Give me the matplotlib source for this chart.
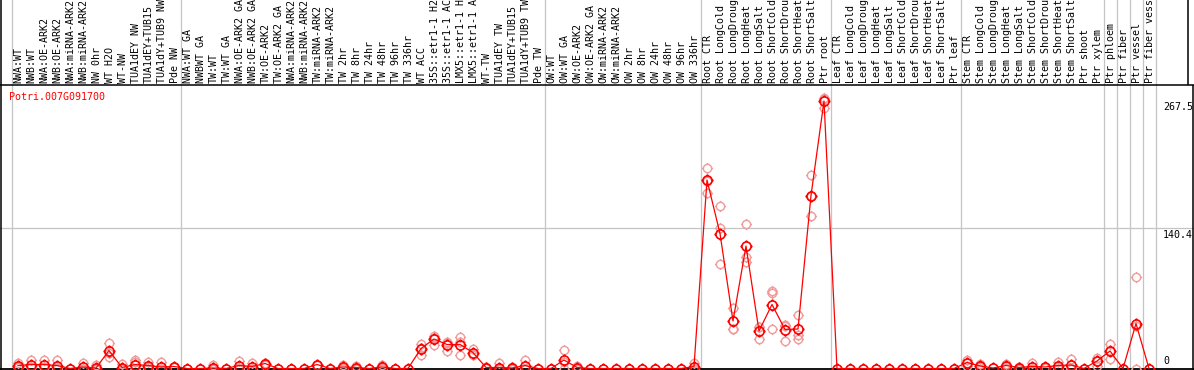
import matplotlib
matplotlib.use('Agg')
import matplotlib.pyplot as plt
from matplotlib.path import Path
from matplotlib.lines import Line2D

# ---------------- data ----------------
title = "Potri.007G091700"

labels = [
    "NWA:WT", "NWB:WT", "NWA:OE-ARK2", "NWB:OE-ARK2", "NWA:miRNA-ARK2", "NWB:miRNA-ARK2",
    "NW 0hr", "WT H2O", "WT-NW", "TUA1dEY NW", "TUA1dEY+TUB15", "TUA1dY+TUB9 NW", "Pde NW",
    "NWA:WT GA", "NWBWT GA", "TW:WT", "TW:WT GA", "NWA:OE-ARK2 GA", "NWB:OE-ARK2 GA",
    "TW:OE-ARK2", "TW:OE-ARK2 GA", "NWA:miRNA-ARK2", "NWB:miRNA-ARK2", "TW:miRNA-ARK2",
    "TW:miRNA-ARK2", "TW 2hr", "TW 8hr", "TW 24hr", "TW 48hr", "TW 96hr", "TW 336hr",
    "WT ACC", "35S::etr1-1 H2O", "35S::etr1-1 ACC", "LMX5::etr1-1 H2O", "LMX5::etr1-1 ACC",
    "WT-TW", "TUA1dEY TW", "TUA1dEY+TUB15", "TUA1dY+TUB9 TW", "Pde TW",
    "OW:WT", "OW:WT GA", "OW:OE-ARK2", "OW:OE-ARK2 GA", "OW:miRNA-ARK2", "OW:miRNA-ARK2",
    "OW 2hr", "OW 8hr", "OW 24hr", "OW 48hr", "OW 96hr", "OW 336hr",
    "Root CTR", "Root LongCold", "Root LongDrought", "Root LongHeat", "Root LongSalt",
    "Root ShortCold", "Root ShortDrought", "Root ShortHeat", "Root ShortSalt", "Ptr root",
    "Leaf CTR", "Leaf LongCold", "Leaf LongDrought", "Leaf LongHeat", "Leaf LongSalt",
    "Leaf ShortCold", "Leaf ShortDrought", "Leaf ShortHeat", "Leaf ShortSalt", "Ptr leaf",
    "Stem CTR", "Stem LongCold", "Stem LongDrought", "Stem LongHeat", "Stem LongSalt",
    "Stem ShortCold", "Stem ShortDrought", "Stem ShortHeat", "Stem ShortSalt", "Ptr shoot",
    "Ptr xylem", "Ptr phloem", "Ptr fiber", "Ptr vessel", "Ptr fiber vessel",
]

means = [
    3, 4, 4, 3, 0, 1.5, 0.5, 18, 1, 4, 3, 1.5, 2,
    0, 0, 0.5, 0, 3, 2, 5, 0, 0, 0, 4, 0, 1.5, 1, 0, 1.5, 0, 0,
    20, 29.5, 24, 24, 16, 1, 1, 0.5, 3, 0,
    0, 8.5, 1, 0, 0, 0, 0, 0, 0, 0, 0, 2,
    188.5, 135, 47.5, 122.5, 37.5, 64, 39, 39.5, 173, 267.5,
    0, 0, 0, 0, 0, 0, 0, 0, 0, 0,
    6, 2.5, 0.5, 3, 1, 2, 1.5, 3, 3.5, 0,
    7.5, 17.5, 0, 45, 0,
]

replicates = [
    [5.5, 2, 1.5], [8.5, 2, 1.5], [8.5, 2, 1.5], [8.5, 1, 0], [], [5.5, 0, 0], [4, 0, 0],
    [26, 12, 16], [5, 0, 0], [8.5, 6.5, 0], [7, 2, 0], [7, 0, 0], [2, 2, 2],
    [], [], [3.5, 0, 0], [], [8, 1, 0], [6, 0, 0], [6, 5, 4], [], [], [], [4, 4, 4], [],
    [4, 1, 0], [2.5, 0.5, 0], [], [4, 1, 0], [], [],
    [25, 14, 21], [33, 24, 31], [27, 17.5, 26], [32, 13.5, 27], [20, 13.5, 15],
    [1.5, 0.5, 1], [5.5, 0, 0], [2, 0, 0], [8.5, 0, 0], [],
    [], [18.5, 0, 7], [2.5, 0, 0], [], [], [], [], [], [], [], [], [6, 0, 0],
    [201, 176, 188], [163, 141, 104.5], [61, 40, 40], [145, 112, 107], [42, 42, 30],
    [77.5, 76, 40], [44, 43, 27.5], [54, 33.5, 30], [194, 152.5, 173], [271, 261, 270],
    [], [], [], [], [], [], [], [], [], [],
    [9, 6, 3], [5, 2, 0], [], [5, 3, 1], [2, 1, 0], [6, 0, 0], [2, 1.5, 1], [7, 2, 0],
    [9.5, 1, 0], [],
    [11, 3, 8], [25, 10, 17.5], [], [92, 43, 0], [],
]

group_separators = [-0.5, 12.5, 40.5, 52.5, 62.5, 72.5, 83.5, 84.5, 85.5, 86.5, 87.5]
ytick_values = [267.5, 140.4, 0]
ytick_labels = ["267.5", "140.4", "0"]

# ---------------- layout ----------------
W, H = 1194, 370
X0, DX = 18, 13          # pixel of first column, column spacing
ZERO_PX = 368.5          # pixel row (from top) of value 0
HEADER_PX = 85           # header separator row
MONO = "DejaVu Sans Mono"
FS = 7.2

fig = plt.figure(figsize=(W / 100, H / 100), dpi=100)
ax = fig.add_axes([0, 0, 1, 1])
ax.set_xlim(-X0 / DX, (W - X0) / DX)
ax.set_ylim(-(H - ZERO_PX), ZERO_PX)
ax.axis('off')


def px_line(x0, y0, x1, y1, color='black', lw=1.0):
    fig.add_artist(Line2D([x0 / W, x1 / W], [1 - y0 / H, 1 - y1 / H],
                          transform=fig.transFigure, color=color, lw=lw,
                          solid_capstyle='butt'))


# grid lines
for s in group_separators:
    ax.axvline(s, color='#c4c4c4', lw=0.9, zorder=1)
ax.axhline(140.4, color='#c4c4c4', lw=0.9, zorder=1)

# frame lines
px_line(0.8, 0, 0.8, H, lw=1.1)
px_line(0, HEADER_PX, W, HEADER_PX, lw=1.1)
px_line(1188, 0, 1188, HEADER_PX, lw=1.1)
px_line(1193, HEADER_PX, 1193, H, lw=1.1)
ax.axhline(0, color='black', lw=1.3, zorder=2)

# custom marker: circle with four small ticks
circ = Path.unit_circle()
tick_verts = [(0, 1), (0, 1.35), (0, -1), (0, -1.35), (1, 0), (1.35, 0), (-1, 0), (-1.35, 0)]
tick_codes = [Path.MOVETO, Path.LINETO] * 4
marker = Path.make_compound_path(circ, Path(tick_verts, tick_codes))

xs = list(range(len(labels)))

# replicates
rx, ry = [], []
for i, reps in enumerate(replicates):
    for v in reps:
        rx.append(i)
        ry.append(v)
ax.plot(rx, ry, linestyle='none', marker=marker, markersize=8.0,
        markerfacecolor='none', markeredgecolor='#f09a9a', markeredgewidth=1.0,
        zorder=3, clip_on=False)

# means
ax.plot(xs, means, color='#ff0000', lw=0.9, zorder=4, clip_on=False)
ax.plot(xs, means, linestyle='none', marker=marker, markersize=8.8,
        markerfacecolor='none', markeredgecolor='#ff0000', markeredgewidth=1.2,
        zorder=5, clip_on=False)

# column labels
for i, lab in enumerate(labels):
    ax.text(i + 0.05, ZERO_PX - 83, lab, rotation=90, ha='center', va='bottom',
            fontsize=FS, family=MONO, color='black', clip_on=False)

# y tick labels on right
tx = (1163 - X0) / DX
for v, t in zip(ytick_values, ytick_labels):
    if v == 0:
        ax.text(tx, v + 2.5, t, ha='left', va='bottom', fontsize=FS, family=MONO)
    else:
        ax.text(tx, v - 1.5, t, ha='left', va='top', fontsize=FS, family=MONO)

# title
ax.text((9 - X0) / DX, ZERO_PX - 97, title, ha='left', va='center',
        fontsize=FS, family=MONO, color='#ff0000')

fig.savefig('out.png', dpi=100)
